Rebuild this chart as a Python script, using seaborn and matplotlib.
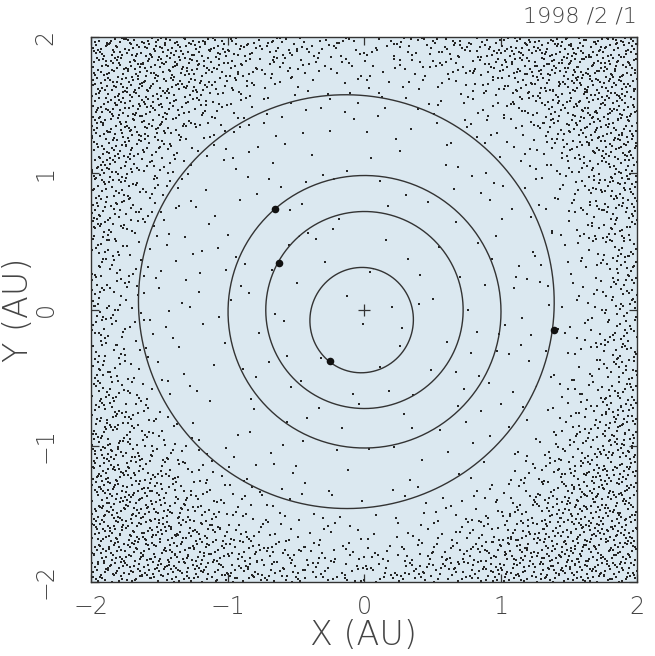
import numpy as np
import pandas as pd
import matplotlib
matplotlib.use("Agg")
import matplotlib.pyplot as plt
import seaborn as sns

# ---------------- data ----------------
title_text = "1998 /2 /1"
ticks = [-2, -1, 0, 1, 2]
tick_labels = ["\u22122", "\u22121", "0", "1", "2"]

# planet orbits (Keplerian elements, AU / deg) and positions
planets = ["Mercury", "Venus", "Earth", "Mars"]
orbit_a = [0.387, 0.723, 1.000, 1.524]
orbit_e = [0.206, 0.007, 0.017, 0.093]
orbit_peri = [77.5, 131.6, 102.9, 336.0]
planet_x = [-0.25, -0.62, -0.654, 1.394]
planet_y = [-0.38, 0.34, 0.736, -0.15]
sun_xy = [0.0, 0.0]

# asteroid surface density (points per AU^2),
# by direction (deg) and heliocentric distance (AU)
radial_centres = [0.5, 1.2, 1.5, 1.7, 1.9, 2.1, 2.35, 2.7]
sector_centres = [0, 45, 90, 135, 180, 225, 270, 315]
density = [
    [15, 35, 65, 210, 480, 690, 800, 820],   # 0   right
    [15, 35, 55, 160, 410, 670, 800, 840],   # 45  top-right
    [12, 25, 45, 120, 280, 540, 760, 780],   # 90  top
    [15, 35, 55, 170, 450, 690, 820, 860],   # 135 top-left
    [15, 35, 50, 150, 410, 670, 800, 820],   # 180 left
    [15, 35, 65, 210, 480, 710, 830, 860],   # 225 bottom-left
    [12, 30, 55, 150, 360, 630, 800, 820],   # 270 bottom
    [15, 35, 65, 210, 510, 710, 830, 860],   # 315 bottom-right
]

# ---------------- lay the points out following the density table ----------------
def halton(i, b):
    f, r = 1.0, 0.0
    while i > 0:
        f /= b
        r += f * (i % b)
        i //= b
    return r

def dens_at(x, y):
    r = np.hypot(x, y)
    ang = np.degrees(np.arctan2(y, x)) % 360.0
    k0 = int(ang // 45) % 8
    k1 = (k0 + 1) % 8
    t = (ang - 45 * (ang // 45)) / 45.0
    d0 = np.interp(r, radial_centres, density[k0])
    d1 = np.interp(r, radial_centres, density[k1])
    return (1 - t) * d0 + t * d1

dmax = max(max(row) for row in density)
n_cand = int(dmax * 16)
ax_pts, ay_pts = [], []
for i in range(n_cand):
    idx = i + 2000
    x = -2 + 4 * halton(idx, 2)
    y = -2 + 4 * halton(idx, 3)
    w = halton(idx, 5)
    if w < dens_at(x, y) / dmax:
        ax_pts.append(x)
        ay_pts.append(y)
asteroids = pd.DataFrame({"x": ax_pts, "y": ay_pts})

orbit_rows = []
E = np.linspace(0, 2 * np.pi, 400)
for name, a, e, w in zip(planets, orbit_a, orbit_e, orbit_peri):
    b = a * np.sqrt(1 - e ** 2)
    xp = a * (np.cos(E) - e)
    yp = b * np.sin(E)
    wr = np.deg2rad(w)
    xo = xp * np.cos(wr) - yp * np.sin(wr)
    yo = xp * np.sin(wr) + yp * np.cos(wr)
    for ii, (xx, yy) in enumerate(zip(xo, yo)):
        orbit_rows.append((name, ii, xx, yy))
orbits = pd.DataFrame(orbit_rows, columns=["planet", "i", "x", "y"])
pl = pd.DataFrame({"planet": planets, "x": planet_x, "y": planet_y})

# ---------------- plot ----------------
sns.set_theme(style="ticks")
plt.rcParams["font.family"] = ["DejaVu Sans"]
plt.rcParams["font.weight"] = "light"

fig = plt.figure(figsize=(6.55, 6.56), dpi=100)
fig.patch.set_facecolor("white")
ax = fig.add_axes([91 / 655, 74 / 656, 546 / 655, 545 / 656])
ax.set_facecolor("#dbe8f0")

sns.scatterplot(data=asteroids, x="x", y="y", ax=ax, s=3.0, color="#262626",
                linewidth=0, marker="s", legend=False)
sns.lineplot(data=orbits, x="x", y="y", units="planet", estimator=None, sort=False,
             ax=ax, color="#333333", linewidth=1.0, legend=False)
sns.scatterplot(data=pl, x="x", y="y", ax=ax, s=30, color="#111111",
                linewidth=0, legend=False, zorder=5)
ax.plot([sun_xy[0]], [sun_xy[1]], marker="+", markersize=9, color="#333333",
        markeredgewidth=0.9, linestyle="none")

ax.set_xlim(-2, 2)
ax.set_ylim(-2, 2)
ax.set_xticks(ticks)
ax.set_yticks(ticks)
ax.set_xticklabels(tick_labels)
ax.set_yticklabels(tick_labels, rotation=90, va="center")
ax.tick_params(direction="in", length=6, width=0.9, color="#333333",
               top=True, right=True, labelsize=17, labelcolor="#444444")
ax.tick_params(axis="x", pad=9)
ax.tick_params(axis="y", pad=24)
for s in ax.spines.values():
    s.set_color("#333333")
    s.set_linewidth(1.0)

ax.set_xlabel("X (AU)", fontsize=24, color="#444444", fontweight="light")
ax.set_ylabel("Y (AU)", fontsize=24, color="#444444", fontweight="light")
ax.xaxis.set_label_coords(0.5, -0.068)
ax.yaxis.set_label_coords(-0.102, 0.5)
fig.text(637 / 655, 1 - 16 / 656, title_text, ha="right", va="center",
         fontsize=16, color="#444444")

fig.savefig("out.png", dpi=100, facecolor="white")
